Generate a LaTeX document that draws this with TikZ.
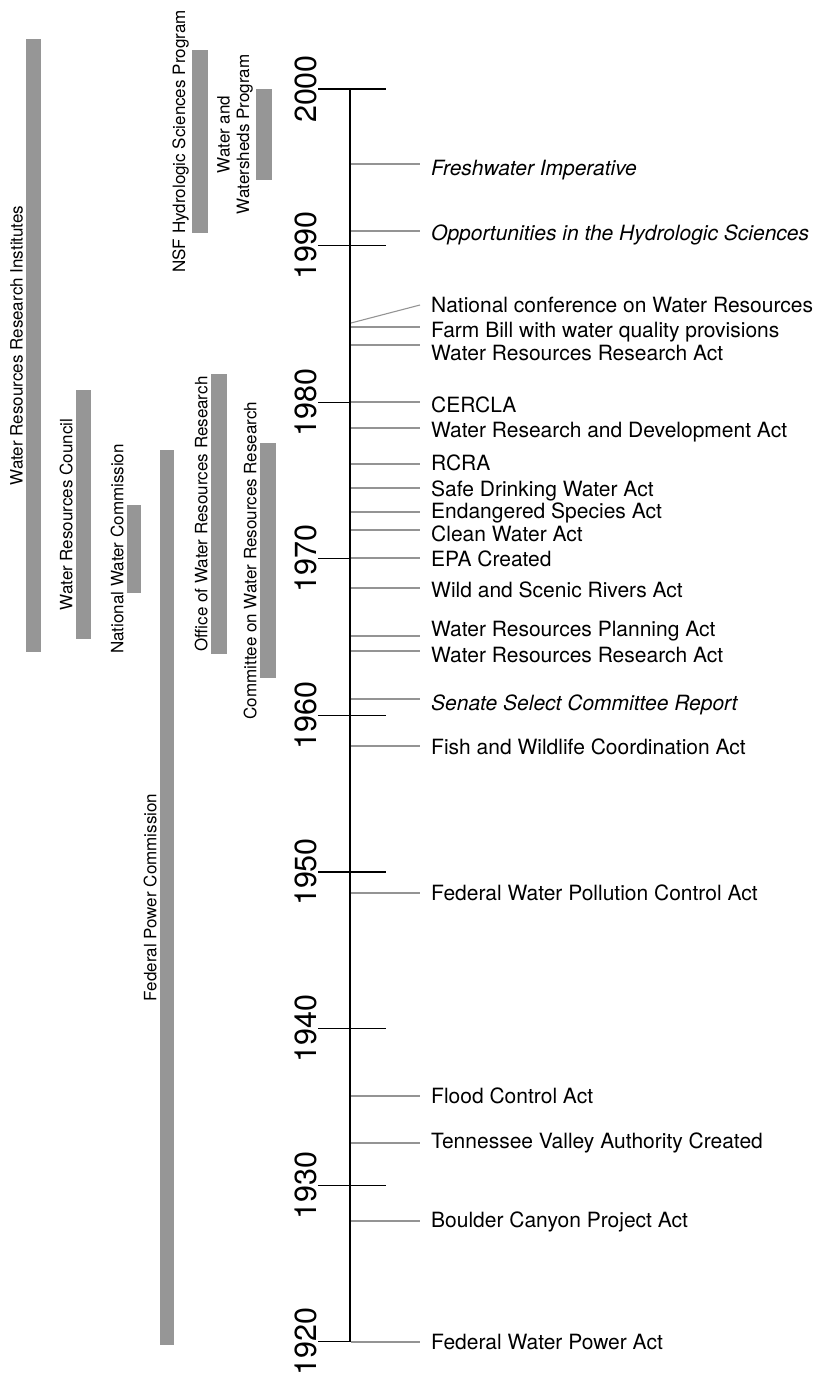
\documentclass[tikz,border=0pt]{standalone}
\usepackage{fontspec}
\setmainfont{TeX Gyre Heros}
\usepackage{tikz}
\definecolor{barc}{gray}{0.59}
\definecolor{evl}{gray}{0.58}

\begin{document}
\begin{tikzpicture}[x=1pt,y=-1pt,
    evtext/.style={anchor=base west,inner sep=0pt,font={\fontsize{21}{25}\selectfont}},
    barlab/.style={rotate=90,anchor=south,inner sep=0pt,align=center,font={\fontsize{17}{19.5}\selectfont}},
    yearlab/.style={rotate=90,anchor=south,inner sep=0pt,font={\fontsize{30.5}{36}\selectfont}}]
  \useasboundingbox (0,0) rectangle (815,1374);
  % programs and agencies
  \foreach \xa/\xb/\ya/\yb/\nm/\txt in {26/41/39/652/wrri/Water Resources Research Institutes,
      76/91/390/639/wrc/Water Resources Council,
      127/141/505/593/nwc/National Water Commission,
      160/174/450/1345/fpc/Federal Power Commission,
      211/227/374/654/owrr/Office of Water Resources Research,
      260/276/443/678/cwrr/Committee on Water Resources Research,
      192/208/50/233/nsf/NSF Hydrologic Sciences Program,
      256/272/89/180/ww/{Water and\\Watersheds Program}}
    {\fill[barc] (\xa,\ya) rectangle (\xb,\yb);
     \node[barlab] (\nm) at (\xa-3,{(\ya+\yb)/2}) {\txt};}
  % time axis
  \coordinate (top) at (350,89);
  \coordinate (bot) at (350,1342);
  \draw[line width=1.2pt] (top) -- (bot);
  \foreach \yr in {1920,1930,...,2000}
    {\coordinate (t\yr) at (350,{89+(2000-\yr)*15.66});
     \draw[line width=1.2pt] (t\yr) ++(-32,0) -- ++(68,0);
     \node[yearlab] (y\yr) at (317,{89+(2000-\yr)*15.66}) {\yr};}
  % events
  \foreach \nm/\ly/\le/\ty/\txt in {fi/164/164/168/{\itshape Freshwater Imperative},
      ohs/231/231/233/{\itshape Opportunities in the Hydrologic Sciences},
      ncwr/323/305/305/National conference on Water Resources,
      farm/327/327/330/Farm Bill with water quality provisions,
      wrraa/345/345/353/Water Resources Research Act,
      cercla/402/402/405/CERCLA,
      wrda/428/428/430/Water Research and Development Act,
      rcra/464/464/463/RCRA,
      sdwa/488/488/489/Safe Drinking Water Act,
      esa/512/512/511/Endangered Species Act,
      cwa/530/530/534/Clean Water Act,
      epa/558/558/559/EPA Created,
      wsra/588/588/590/Wild and Scenic Rivers Act,
      wrpa/636/636/629/Water Resources Planning Act,
      wrrb/651/651/655/Water Resources Research Act,
      sscr/699/699/703/{\itshape Senate Select Committee Report},
      fwca/746/746/747/Fish and Wildlife Coordination Act,
      fwpca/893/893/893/Federal Water Pollution Control Act,
      fca/1096/1096/1096/Flood Control Act,
      tva/1143/1143/1141/Tennessee Valley Authority Created,
      bcpa/1221/1221/1220/Boulder Canyon Project Act,
      fwpa/1342/1342/1342/Federal Water Power Act}
    {\coordinate (a-\nm) at (351,\ly);
     \coordinate (b-\nm) at (420,\le);
     \draw[evl,line width=1.1pt] (a-\nm) -- (b-\nm);
     \node[evtext] (\nm) at (431,\ty+7.5) {\txt};}
\end{tikzpicture}
\end{document}
